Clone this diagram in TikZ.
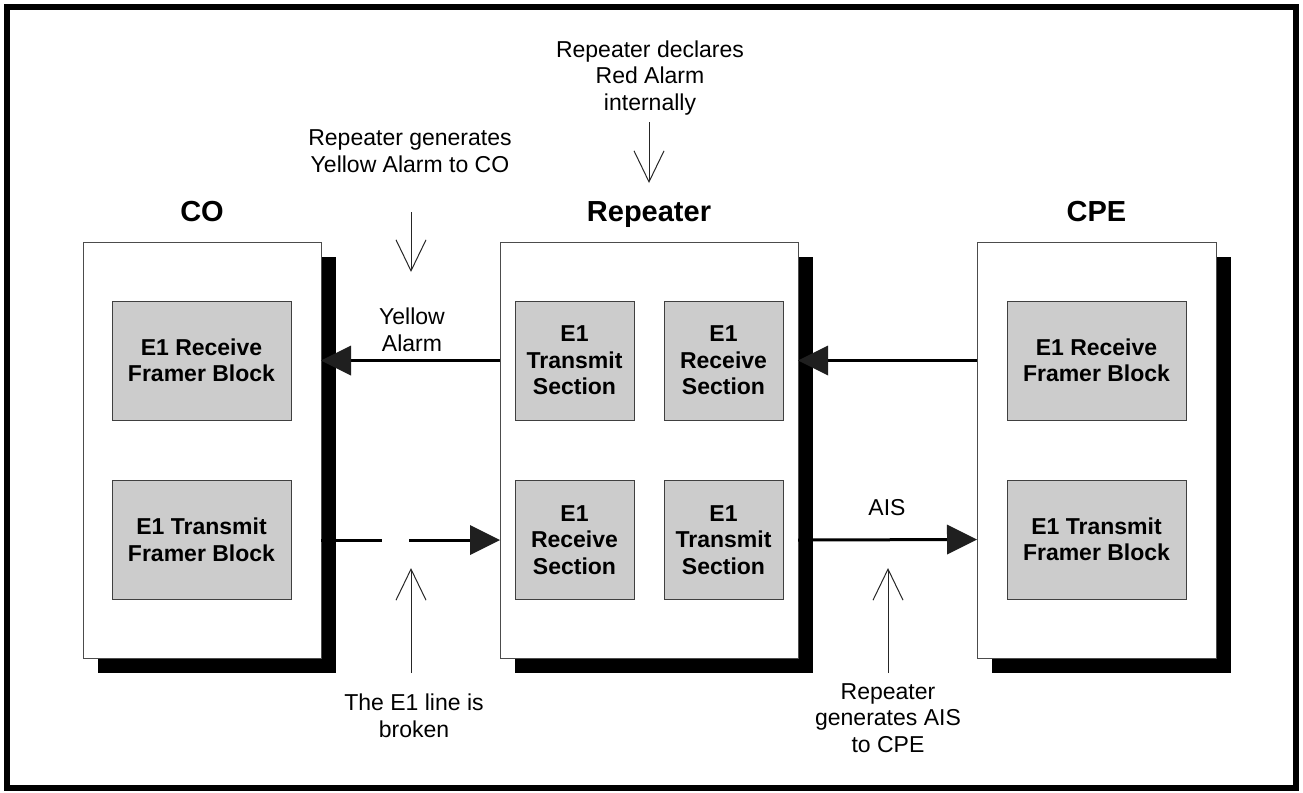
\documentclass[tikz,border=0pt]{standalone}
\usepackage{fontspec}
\setmainfont{Liberation Sans}
\usetikzlibrary{arrows.meta,shadows}
\begin{document}
\begin{tikzpicture}[x=1pt,y=-1pt,
  unit/.style={draw=black!70, line width=1pt, fill=white, minimum height=416pt,
    inner sep=0pt, outer sep=0pt,
    drop shadow={shadow xshift=15pt, shadow yshift=-15pt, opacity=1, fill=black}},
  gbox/.style={draw=black!75, line width=0.8pt, fill=black!20, minimum width=119pt,
    minimum height=119pt, inner sep=0pt, outer sep=0pt, align=center,
    font=\bfseries\fontsize{23}{26.5}\selectfont},
  title/.style={font=\bfseries\fontsize{29}{33}\selectfont, anchor=base, inner sep=0pt},
  lbl/.style={font=\fontsize{23}{26.5}\selectfont, align=center, anchor=base, inner sep=0pt},
  big/.style={line width=3pt, -{Triangle[length=30pt,width=30pt,line width=0pt,color=black!88]}},
  slim/.style={line width=1pt, draw=black!85, -{Straight Barb[length=31pt,width=30pt,line width=1pt]}}
]
\useasboundingbox (0,0) rectangle (1303,792);
\draw[line width=6pt] (7,7) rectangle (1296,788);

% units
\node[unit, minimum width=238pt] (co) at (202,450) {};
\node[unit, minimum width=298pt] (rep) at (649,450) {};
\node[unit, minimum width=239pt] (cpe) at (1096.5,450) {};

\node[title] (coT) at (202,221) {CO};
\node[title] (repT) at (649,221) {Repeater};
\node[title] (cpeT) at (1096.5,221) {CPE};

% inner blocks
\node[gbox, minimum width=179pt] (coRx) at (201.5,360.5) {E1 Receive\\Framer Block};
\node[gbox, minimum width=179pt] (coTx) at (201.5,540) {E1 Transmit\\Framer Block};
\node[gbox] (repTx) at (574.5,360.5) {E1\\Transmit\\Section};
\node[gbox] (repRx) at (723.5,360.5) {E1\\Receive\\Section};
\node[gbox] (repRxB) at (574.5,540) {E1\\Receive\\Section};
\node[gbox] (repTxB) at (723.5,540) {E1\\Transmit\\Section};
\node[gbox, minimum width=179pt] (cpeRx) at (1096.5,360.5) {E1 Receive\\Framer Block};
\node[gbox, minimum width=179pt] (cpeTx) at (1096.5,539.5) {E1 Transmit\\Framer Block};

% thick connectors
\draw[big] (rep.west |- repTx.center) -- (co.east |- coRx.center);
\draw[big] (cpe.west |- cpeRx.center) -- (rep.east |- repRx.center);
\draw[big, dash pattern=on 61pt off 27pt on 400pt] (co.east |- coTx.center) -- (rep.west |- repRxB.center);
\draw[big] (rep.east |- repTxB.center) -- (cpe.west |- cpeTx.center);

% connector labels (anchor = baseline of last line)
\node[lbl] (ya) at (412,351) {Yellow\\Alarm};
\node[lbl] (aisL) at (887,515) {AIS};

% annotations
\node[lbl] (t1) at (410,172) {Repeater generates\\Yellow Alarm to CO};
\node[lbl] (t2) at (650,110) {Repeater declares\\Red Alarm\\internally};
\node[lbl] (t3) at (414,737) {The E1 line is\\broken};
\node[lbl] (t4) at (888,752) {Repeater\\generates AIS\\to CPE};

\coordinate (a1s) at (411,212); \coordinate (a1e) at (411,272);
\coordinate (a2s) at (649,122); \coordinate (a2e) at (649,183);
\coordinate (a3s) at (411,673); \coordinate (a3e) at (411,568);
\coordinate (a4s) at (888,673); \coordinate (a4e) at (888,568);
\draw[slim] (a1s) -- (a1e);
\draw[slim] (a2s) -- (a2e);
\draw[slim] (a3s) -- (a3e);
\draw[slim] (a4s) -- (a4e);
\end{tikzpicture}
\end{document}
